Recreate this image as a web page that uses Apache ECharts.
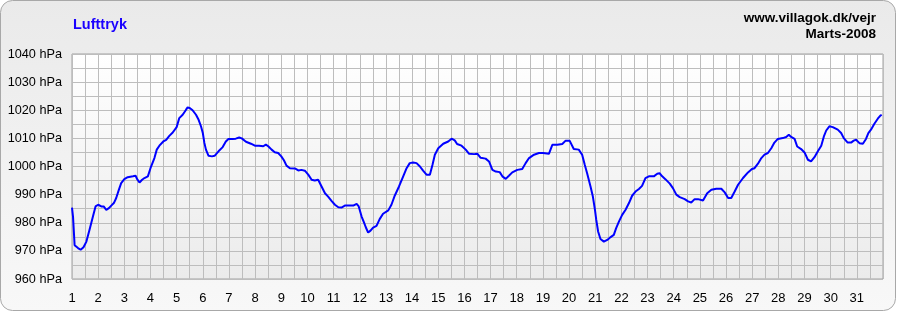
<!DOCTYPE html>
<html>
<head>
<meta charset="utf-8">
<script src="https://cdn.jsdelivr.net/npm/echarts@6/dist/echarts.min.js"></script>
<style>
html,body{margin:0;padding:0;background:#fff;}
#c{width:897px;height:312px;}
</style>
</head>
<body>
<div id="c"></div>
<script>
const title = "Lufttryk";
const sourceText = "www.villagok.dk/vejr";
const periodText = "Marts-2008";
const dayTicks = [1,2,3,4,5,6,7,8,9,10,11,12,13,14,15,16,17,18,19,20,21,22,23,24,25,26,27,28,29,30,31];
const days = [
1.00,1.04,1.10,1.23,1.33,1.44,1.55,1.67,1.80,1.90,2.00,2.12,2.21,2.31,2.41,2.50,2.60,2.69,2.79,2.88,
3.00,3.13,3.33,3.43,3.49,3.58,3.68,3.77,3.90,4.00,4.15,4.24,4.34,4.49,4.60,4.72,4.85,5.00,5.10,5.23,
5.36,5.42,5.50,5.61,5.74,5.84,5.93,6.00,6.06,6.12,6.22,6.35,6.45,6.49,6.60,6.76,6.88,6.98,7.14,7.26,
7.39,7.49,7.65,7.84,7.99,8.15,8.31,8.41,8.50,8.63,8.75,8.88,9.00,9.10,9.20,9.33,9.52,9.65,9.77,9.90,
10.03,10.16,10.28,10.41,10.54,10.67,10.79,10.92,11.05,11.18,11.30,11.43,11.56,11.75,11.88,11.96,12.07,12.16,12.23,12.32,
12.41,12.51,12.64,12.76,12.89,13.09,13.21,13.34,13.50,13.66,13.79,13.91,14.04,14.17,14.30,14.42,14.55,14.68,14.78,14.87,
15.00,15.19,15.38,15.51,15.63,15.72,15.89,16.05,16.18,16.37,16.50,16.62,16.81,16.94,17.07,17.20,17.35,17.45,17.58,17.70,
17.83,18.02,18.21,18.34,18.47,18.66,18.85,19.00,19.23,19.36,19.55,19.74,19.87,20.02,20.18,20.37,20.50,20.60,20.69,20.82,
20.91,20.99,21.04,21.11,21.20,21.33,21.46,21.59,21.71,21.80,21.91,22.03,22.16,22.29,22.41,22.54,22.67,22.79,22.92,23.05,
23.24,23.37,23.46,23.56,23.68,23.85,23.97,24.10,24.23,24.42,24.55,24.67,24.80,24.93,25.12,25.28,25.44,25.63,25.82,25.95,
26.08,26.20,26.33,26.46,26.65,26.84,26.99,27.09,27.22,27.35,27.47,27.60,27.73,27.85,27.98,28.17,28.30,28.40,28.49,28.62,
28.72,28.87,29.00,29.13,29.25,29.38,29.51,29.64,29.74,29.83,29.95,30.08,30.27,30.40,30.50,30.65,30.78,30.88,30.97,31.10,
31.23,31.35,31.44,31.54,31.67,31.80,31.90,31.95
];
const pressure = [
985.4,982.0,972.0,971.0,970.4,971.3,973.3,977.5,982.2,985.8,986.4,985.8,985.8,984.6,985.2,986.1,987.0,988.8,991.7,994.1,
995.5,996.2,996.5,996.7,995.5,994.3,995.3,995.9,996.5,999.4,1003.0,1006.0,1007.4,1008.9,1009.5,1010.9,1012.1,1014.0,1017.2,1018.4,
1020.2,1021.0,1020.8,1020.0,1018.4,1016.6,1014.3,1011.9,1008.4,1006.0,1003.8,1003.6,1003.8,1004.2,1005.4,1006.9,1008.9,1009.8,1009.8,1009.9,
1010.3,1010.0,1008.8,1008.1,1007.4,1007.4,1007.2,1007.8,1007.2,1006.0,1005.1,1004.8,1003.6,1002.2,1000.3,999.4,999.3,998.6,998.8,998.5,
997.1,995.3,995.0,995.3,992.9,990.5,989.3,987.8,986.4,985.5,985.4,986.1,986.1,986.1,986.7,985.8,982.2,980.1,978.4,976.5,
977.2,978.3,978.9,981.3,983.2,984.4,986.4,989.7,992.9,996.5,999.4,1001.2,1001.4,1001.2,1000.0,998.5,997.1,997.1,1000.6,1004.2,
1006.5,1008.1,1008.9,1009.9,1009.3,1008.0,1007.4,1006.0,1004.5,1004.4,1004.5,1003.1,1002.8,1001.8,998.8,998.2,998.0,996.5,995.6,996.7,
997.9,998.8,999.1,1001.2,1003.0,1004.2,1004.8,1004.8,1004.5,1007.7,1007.7,1008.0,1009.2,1009.2,1006.2,1006.0,1004.2,1000.6,997.6,992.9,
989.3,984.6,981.0,976.9,974.2,973.3,973.9,974.9,975.7,978.1,980.5,982.8,984.6,987.0,989.6,991.1,992.0,993.1,995.9,996.5,
996.5,997.4,997.6,996.5,995.5,993.9,992.3,990.0,989.1,988.4,987.6,987.2,988.4,988.4,987.9,990.5,991.7,992.1,992.1,990.8,
988.8,988.8,991.1,993.5,995.9,997.9,999.1,999.4,1001.0,1003.0,1004.2,1004.8,1006.5,1008.5,1009.8,1010.1,1010.5,1011.3,1010.5,1009.8,
1007.1,1006.2,1005.0,1002.4,1001.8,1003.3,1005.4,1007.4,1010.7,1012.8,1014.3,1014.0,1013.1,1011.9,1010.1,1008.5,1008.5,1009.2,1009.5,1008.3,
1008.1,1009.8,1011.9,1013.1,1015.2,1017.0,1018.1,1018.4
];

const chart = echarts.init(document.getElementById('c'), null, {renderer:'canvas'});
const series = days.map((d,i)=>[d, pressure[i]]);
const FONT = 'Arial, "Liberation Sans", sans-serif';

chart.setOption({
  animation:false,
  backgroundColor: 'transparent',
  graphic:[
    {type:'rect', z:-10, silent:true, shape:{x:0.5,y:0.5,width:895,height:310,r:12},
     style:{fill:new echarts.graphic.LinearGradient(0,0,0,1,[{offset:0,color:'#eaeaea'},{offset:1,color:'#f8f8f8'}]), stroke:'#a8a8a8', lineWidth:1}},
    {type:'text', left:73, top:17, style:{text:title, fill:'#1a00ff', font:'bold 14.5px '+FONT}},
    {type:'text', right:21, top:11, style:{text:sourceText, fill:'#000', font:'bold 13.5px '+FONT}},
    {type:'text', right:21, top:27, style:{text:periodText, fill:'#000', font:'bold 13.5px '+FONT}}
  ],
  grid:{left:72, top:54, width:811, height:225, show:true,
    backgroundColor:new echarts.graphic.LinearGradient(0,0,0,1,[{offset:0,color:'#ffffff'},{offset:1,color:'#ebebeb'}]),
    borderColor:'#a0a0a0', borderWidth:1},
  xAxis:{type:'value', min:1, max:32, interval:0.5,
    axisLine:{show:false}, axisTick:{show:false},
    splitLine:{show:true, lineStyle:{color:'#bdbdbd', width:1}},
    axisLabel:{color:'#000', fontFamily:FONT, fontSize:13, margin:13,
      formatter:v=> (Number.isInteger(v) && dayTicks.indexOf(v)>=0) ? String(v) : '',
      showMaxLabel:false}},
  yAxis:{type:'value', min:960, max:1040, interval:5,
    axisLine:{show:false}, axisTick:{show:false},
    splitLine:{show:true, lineStyle:{color:'#bdbdbd', width:1}},
    axisLabel:{color:'#000', fontFamily:FONT, fontSize:12.7, margin:10,
      formatter:v=> (v%10===0) ? v+' hPa' : ''}},
  series:[{type:'line', data:series, showSymbol:false, smooth:false,
    lineStyle:{color:'#0000ff', width:2}, itemStyle:{color:'#0000ff'}}]
});
</script>
</body>
</html>
